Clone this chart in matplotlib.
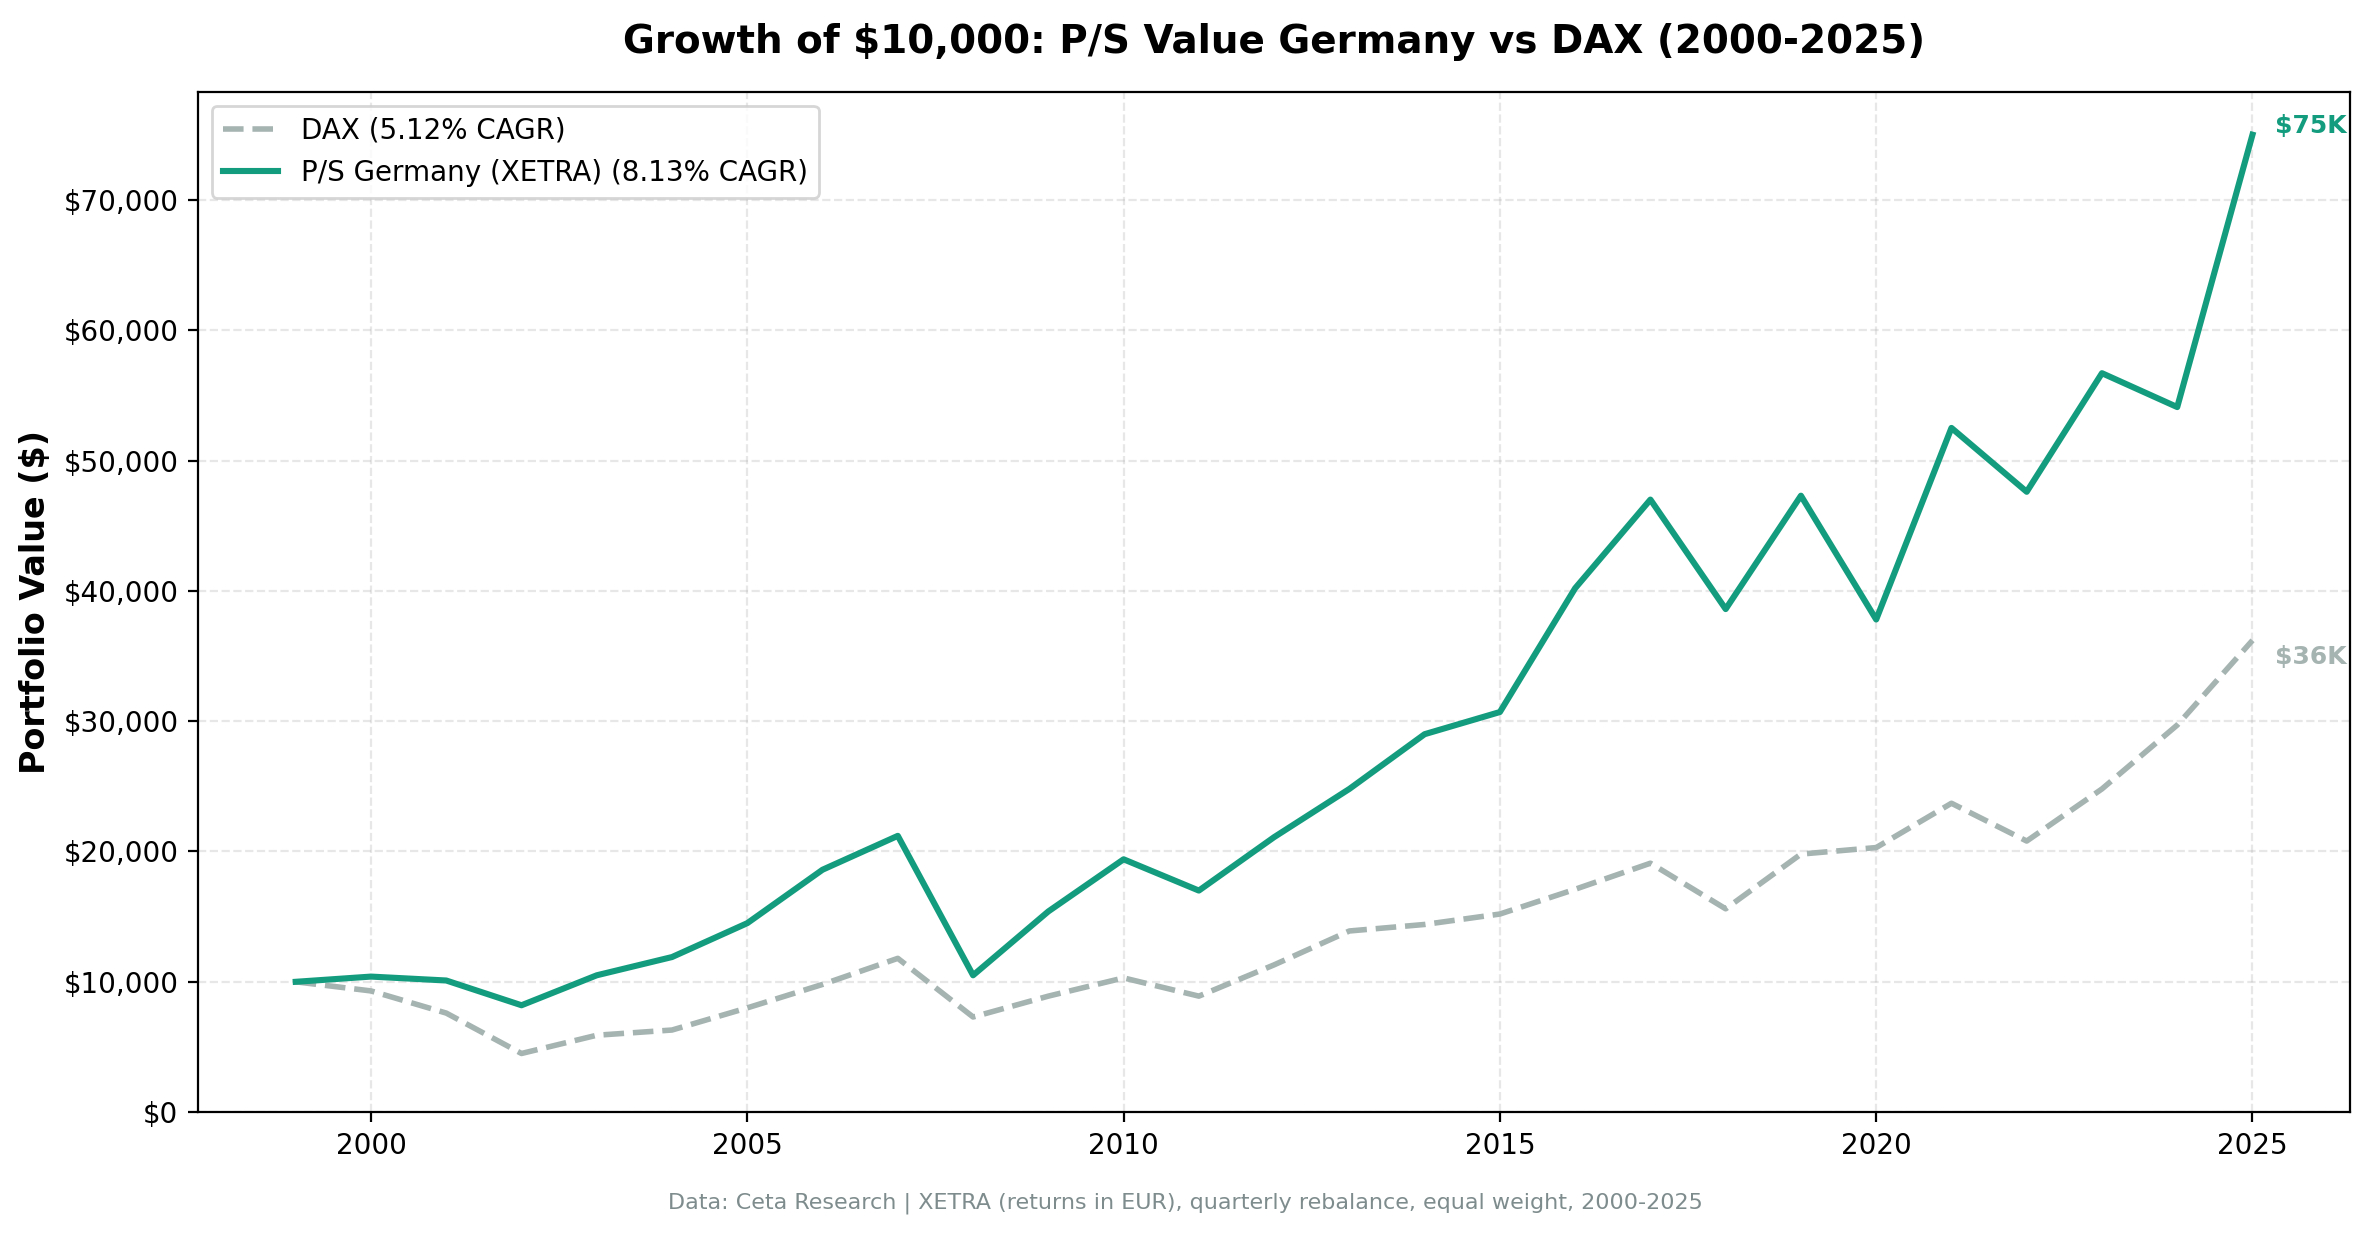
import matplotlib
matplotlib.use("Agg")
import matplotlib.pyplot as plt
from matplotlib.ticker import FuncFormatter

years = list(range(1999, 2026))
ps_germany = [10000, 10400, 10100, 8200, 10500, 11900, 14500, 18600, 21200, 10500,
              15400, 19400, 17000, 21100, 24800, 29000, 30700, 40200, 47000, 38600,
              47300, 37800, 52500, 47600, 56700, 54100, 75000]
dax = [10000, 9300, 7600, 4500, 5900, 6300, 8000, 9800, 11800, 7300,
       8900, 10300, 8900, 11300, 13900, 14400, 15200, 17100, 19100, 15600,
       19800, 20300, 23700, 20800, 24800, 29700, 36200]

GREEN = "#149c7e"
GREY = "#a5b3b1"

fig, ax = plt.subplots(figsize=(11.85, 6.195), dpi=200)
ax.plot(years, dax, ls="--", color=GREY, lw=2.0, label="DAX (5.12% CAGR)")
ax.plot(years, ps_germany, color=GREEN, lw=2.2, label="P/S Germany (XETRA) (8.13% CAGR)")

ax.annotate("$75K", (years[-1], ps_germany[-1]), xytext=(8, 3), textcoords="offset points",
            color=GREEN, fontsize=9, fontweight="bold", va="center")
ax.annotate("$36K", (years[-1], dax[-1]), xytext=(8, -6), textcoords="offset points",
            color=GREY, fontsize=9, fontweight="bold", va="center")

ax.set_ylim(0, 78300)
ax.set_xlim(1997.7, 2026.3)
ax.yaxis.set_major_formatter(FuncFormatter(lambda v, p: f"${v:,.0f}"))
ax.grid(True, ls="--", alpha=0.3)
ax.set_ylabel("Portfolio Value ($)", fontsize=12, fontweight="bold")
ax.set_title("Growth of $10,000: P/S Value Germany vs DAX (2000-2025)",
             fontsize=14, fontweight="bold", pad=14)
ax.legend(loc="upper left", fontsize=10)
fig.text(0.5, 0.025, "Data: Ceta Research | XETRA (returns in EUR), quarterly rebalance, equal weight, 2000-2025",
         ha="center", fontsize=8, color="#7f8c8d")
fig.subplots_adjust(left=0.0835, right=0.9917, top=0.926, bottom=0.1024)
fig.savefig("out.png", dpi=200)
